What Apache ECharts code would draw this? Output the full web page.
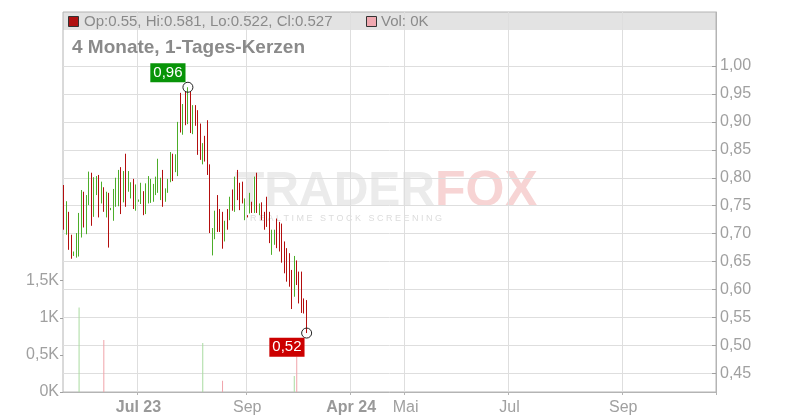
<!DOCTYPE html>
<html><head><meta charset="utf-8">
<script src="https://cdn.jsdelivr.net/npm/echarts@6/dist/echarts.min.js"></script>
<style>html,body{margin:0;padding:0;background:#fff}#c{width:800px;height:420px}</style>
</head><body><div id="c"></div>
<script>
// ---- data ----
const slotCount = 264; // trading-day slots on the x axis
const openPrices = [
 .780,.705,.735,.692,.661,.662,.664,.698,.770,.704,
 .756,.804,.735,.772,.800,.758,.779,.733,.768,.743,
 .727,.752,.753,.814,.760,.837,.778,.766,.793,.745,
 .758,.757,.772,.739,.758,.759,.760,.772,.777,.764,
 .809,.760,.776,.796,.838,.813,.808,.946,.881,.950,
 .900,.949,.882,.926,.916,.892,.828,.870,.897,.818,
 .665,.694,.764,.740,.734,.690,.740,.728,.775,.743,
 .809,.787,.789,.728,.732,.740,.754,.741,.804,.736,
 .752,.735,.761,.734,.666,.684,.722,.716,.712,.681,
 .669,.660,.629,.591,.648,.627,.626,.580,.550];
const closePrices = [
 .712,.752,.676,.660,.667,.697,.732,.772,.716,.764,
 .806,.719,.796,.799,.734,.789,.743,.771,.680,.745,
 .776,.796,.809,.740,.808,.753,.808,.788,.748,.784,
 .760,.787,.737,.786,.799,.794,.786,.798,.829,.796,
 .752,.778,.795,.841,.798,.838,.894,.886,.927,.898,
 .956,.884,.925,.897,.846,.836,.858,.833,.810,.706,
 .705,.736,.707,.707,.678,.719,.711,.762,.745,.797,
 .764,.746,.758,.759,.730,.769,.740,.797,.741,.751,
 .728,.711,.716,.687,.703,.703,.678,.672,.653,.633,
 .618,.609,.570,.655,.612,.579,.563,.560,.527];
const lowPrices = [
 .707,.698,.671,.655,.660,.657,.659,.693,.711,.699,
 .751,.714,.730,.769,.729,.754,.739,.729,.675,.742,
 .723,.748,.749,.735,.756,.748,.775,.763,.744,.741,
 .757,.753,.733,.735,.754,.755,.757,.769,.773,.760,
 .748,.757,.773,.792,.794,.810,.803,.881,.877,.894,
 .896,.880,.878,.893,.841,.832,.824,.829,.805,.701,
 .661,.690,.703,.703,.673,.686,.707,.724,.741,.739,
 .760,.742,.754,.724,.729,.736,.737,.737,.737,.733,
 .724,.707,.712,.683,.662,.680,.674,.668,.648,.629,
 .614,.605,.565,.587,.608,.575,.558,.557,.522];
const highPrices = [
 .787,.758,.739,.698,.668,.701,.737,.778,.775,.769,
 .811,.809,.801,.803,.805,.793,.783,.775,.773,.746,
 .780,.800,.814,.819,.812,.843,.812,.792,.798,.788,
 .761,.791,.776,.790,.803,.798,.789,.802,.834,.800,
 .814,.781,.798,.846,.843,.842,.900,.952,.932,.955,
 .962,.954,.930,.930,.921,.897,.862,.875,.903,.824,
 .710,.741,.769,.744,.739,.723,.744,.766,.779,.802,
 .814,.791,.793,.763,.733,.773,.757,.802,.809,.754,
 .756,.739,.766,.739,.707,.707,.727,.721,.718,.686,
 .674,.665,.635,.660,.652,.632,.632,.584,.581];
const volumeSlots  = [6, 16, 56, 64, 93, 94];
const volumeValues = [1140, 700, 660, 150, 215, 480];
const tickSlots  = [30, 74, 116, 138, 180, 226];
const tickLabels = ['Jul 23', 'Sep', 'Apr 24', 'Mai', 'Jul', 'Sep'];
const tickBold   = [true, false, true, false, false, false];
const priceTicks = [0.45, 0.50, 0.55, 0.60, 0.65, 0.70, 0.75, 0.80, 0.85, 0.90, 0.95, 1.00];
const volumeTicks = [0, 500, 1000, 1500];
const highMark = { slot: 50, value: 0.962, label: '0,96' };
const lowMark  = { slot: 98, value: 0.522, label: '0,52' };
const chartTitle = '4 Monate, 1-Tages-Kerzen';

// ---- styling ----
const FONT = '"Liberation Sans", Arial, sans-serif';
const UP = '#4cad29', DOWN = '#b30e0e';
const VOL_UP = '#a9dba0', VOL_DOWN = '#f0a3aa';
const GRID = '#dedede', AXIS = '#b4b4b4', LABEL = '#a0a0a0';

const slots = [];
for (let i = 0; i < slotCount; i++) slots.push(String(i));
const candles = openPrices.map((o, i) => [o, closePrices[i], lowPrices[i], highPrices[i]]);
const volData = candles.map(() => null);
volumeSlots.forEach((s, k) => {
  const up = closePrices[s] > openPrices[s];
  volData[s] = { value: volumeValues[k], itemStyle: { color: up ? VOL_UP : VOL_DOWN } };
});
const last = candles.length - 1;
const headerText = 'Op:' + openPrices[last] + ', Hi:' + highPrices[last] + ', Lo:' + lowPrices[last] + ', Cl:' + closePrices[last];
const lastVol = volumeSlots.indexOf(last) >= 0 ? volumeValues[volumeSlots.indexOf(last)] : 0;
const volText = 'Vol: ' + Math.round(lastVol / 1000) + 'K';
const isTick = (idx) => tickSlots.indexOf(idx) >= 0;

const chart = echarts.init(document.getElementById('c'), null, { renderer: 'canvas' });
chart.setOption({
  animation: false,
  textStyle: { fontFamily: FONT },
  grid: [
    { left: 63, right: 84, top: 12, bottom: 28, show: true, borderColor: AXIS, borderWidth: 1, backgroundColor: 'transparent' },
    { left: 63, right: 84, top: 280.7, bottom: 28, show: false }
  ],
  xAxis: [
    { type: 'category', gridIndex: 0, data: slots, boundaryGap: true,
      axisLine: { show: true, lineStyle: { color: AXIS } },
      axisTick: { show: true, interval: isTick, length: 3, lineStyle: { color: AXIS } },
      axisLabel: { interval: isTick, margin: 8, fontSize: 16, color: LABEL, fontFamily: FONT,
        formatter: (v, i) => { const k = tickSlots.indexOf(Number(v)); if (k < 0) return ''; return tickBold[k] ? '{b|' + tickLabels[k] + '}' : tickLabels[k]; },
        rich: { b: { fontWeight: 'bold', fontSize: 16, color: '#999', fontFamily: FONT } } },
      splitLine: { show: true, interval: isTick, lineStyle: { color: GRID } } },
    { type: 'category', gridIndex: 1, data: slots, boundaryGap: true, show: false }
  ],
  yAxis: [
    { type: 'value', gridIndex: 0, position: 'right', min: 0.4165, max: 1.0967,
      axisLine: { show: true, lineStyle: { color: AXIS } },
      axisTick: { show: true, inside: true, length: 4, customValues: priceTicks, lineStyle: { color: LABEL } },
      axisLabel: { customValues: priceTicks, margin: 4, fontSize: 16, color: LABEL, fontFamily: FONT, padding: [4, 0, 0, 0],
        formatter: v => v.toFixed(2).replace('.', ',') },
      splitLine: { show: true, lineStyle: { color: GRID } } },
    { type: 'value', gridIndex: 1, position: 'left', min: 0, max: 1500, interval: 500,
      axisLine: { show: false },
      axisTick: { show: true, length: 3, lineStyle: { color: LABEL } },
      axisLabel: { margin: 4, fontSize: 16, color: LABEL, fontFamily: FONT, padding: [3, 0, 0, 0],
        formatter: v => (v / 1000).toString().replace('.', ',') + 'K' },
      splitLine: { show: false } }
  ],
  series: [
    { type: 'candlestick', xAxisIndex: 0, yAxisIndex: 0, data: candles, barWidth: 0.6,
      itemStyle: { color: UP, color0: DOWN, borderColor: UP, borderColor0: DOWN, borderWidth: 1 },
      z: 3,
      markPoint: {
        symbol: 'circle', symbolSize: 10, silent: true, animation: false,
        itemStyle: { color: 'rgba(255,255,255,0)', borderColor: '#222', borderWidth: 1 },
        data: [
          { coord: [highMark.slot, highMark.value], value: highMark.value,
            label: { show: true, formatter: highMark.label, position: [3.1, 0.5], align: 'right', verticalAlign: 'bottom',
              backgroundColor: '#089408', color: '#fff', padding: [2, 3], fontSize: 15, fontFamily: FONT } },
          { coord: [lowMark.slot, lowMark.value], value: lowMark.value,
            label: { show: true, formatter: lowMark.label, position: [3.4, 10.2], align: 'right', verticalAlign: 'top',
              backgroundColor: '#cc0000', color: '#fff', padding: [2, 3], fontSize: 15, fontFamily: FONT } }
        ]
      } },
    { type: 'bar', xAxisIndex: 1, yAxisIndex: 1, data: volData, barWidth: 1, z: 2 }
  ],
  graphic: [
    { type: 'rect', z: -10, silent: true, shape: { x: 63, y: 12, width: 653, height: 18 }, style: { fill: '#e3e3e3' } },
    { type: 'rect', z: 5, silent: true, shape: { x: 68.5, y: 16.5, width: 10, height: 10 }, style: { fill: '#b01111', stroke: '#333', lineWidth: 1 } },
    { type: 'text', z: 5, silent: true, x: 84, y: 21.5, style: { text: headerText, font: '15px ' + FONT, fill: '#8a8a8a', verticalAlign: 'middle' } },
    { type: 'rect', z: 5, silent: true, shape: { x: 366.5, y: 16.5, width: 10, height: 10 }, style: { fill: '#f0a8b0', stroke: '#333', lineWidth: 1 } },
    { type: 'text', z: 5, silent: true, x: 381, y: 21.5, style: { text: volText, font: '15px ' + FONT, fill: '#8a8a8a', verticalAlign: 'middle' } },
    { type: 'text', z: 5, silent: true, x: 72, y: 47.5, style: { text: chartTitle, font: 'bold 19px ' + FONT, fill: '#8a8a8a', verticalAlign: 'middle' } },
    { type: 'text', z: -5, silent: true, x: 235, y: 192, style: { text: '{g|TRADER}{p|FOX}', verticalAlign: 'middle',
        rich: { g: { font: 'bold 48px ' + FONT, fill: '#ebebeb' }, p: { font: 'bold 50px ' + FONT, fill: '#f7d4d4' } } } },
    { type: 'text', z: -5, silent: true, x: 250, y: 219, style: { text: 'R E A L T I M E   S T O C K   S C R E E N I N G', font: '9px ' + FONT, fill: '#dcdcdc', verticalAlign: 'middle' } }
  ]
});
</script></body></html>
